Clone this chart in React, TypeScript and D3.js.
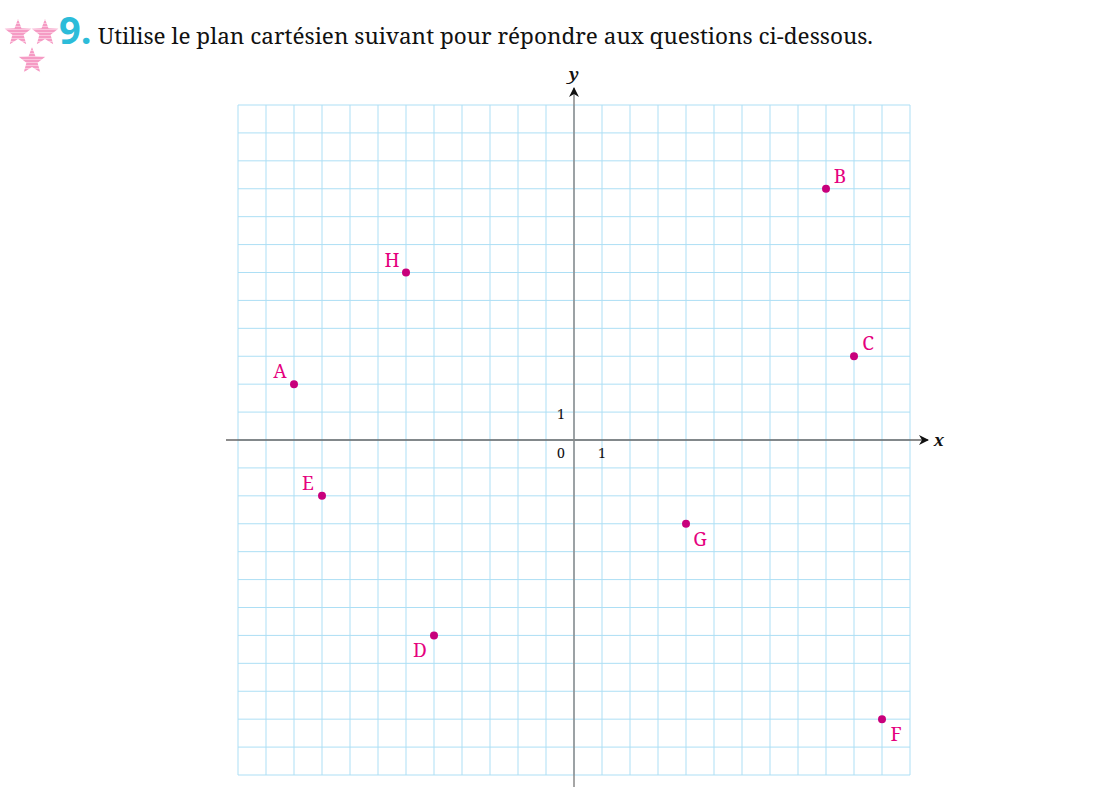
import React from 'react'
import * as d3 from 'd3'

const W = 1096
const H = 791

const gridMin = -12
const gridMax = 12

const pointNames = ['A', 'B', 'C', 'D', 'E', 'F', 'G', 'H']
const pointX = [-10, 9, 10, -5, -9, 11, 4, -6]
const pointY = [2, 9, 3, -7, -2, -10, -3, 6]
// which side the letter sits on: [horizontal, vertical]
const labelSide = [[-1, -1], [1, -1], [1, -1], [-1, 1], [-1, -1], [1, 1], [1, 1], [-1, -1]]

const titleNumber = '9.'
const titleText = 'Utilise le plan cartésien suivant pour répondre aux questions ci-dessous.'

const serif = "'Noto Serif', 'DejaVu Serif', 'Liberation Serif', serif"

const starPath = (cx: number, cy: number, r: number) => {
  const pts: [number, number][] = []
  for (let i = 0; i < 10; i++) {
    const a = -Math.PI / 2 + (i * Math.PI) / 5
    const rr = i % 2 === 0 ? r : r * 0.42
    pts.push([cx + rr * Math.cos(a), cy + rr * Math.sin(a)])
  }
  return d3.line()(pts) + 'Z'
}

export default function App() {
  const x = d3.scaleLinear().domain([gridMin, gridMax]).range([238, 910])
  const y = d3.scaleLinear().domain([gridMin, gridMax]).range([775, 105])
  const ticks = d3.range(gridMin, gridMax + 1)

  const stars = [[18, 33], [45, 33], [32, 61]]

  return (
    <svg width={W} height={H} style={{ position: 'absolute', left: 0, top: 0 }}>
      <defs>
        <pattern id="stripes" width="4" height="3" patternUnits="userSpaceOnUse">
          <rect width="4" height="3" fill="#f59bc4" />
          <rect y="2" width="4" height="1" fill="#fbc6de" />
        </pattern>
        <marker id="arrow" viewBox="0 0 10 10" refX="9" refY="5" markerWidth="10" markerHeight="10"
          markerUnits="userSpaceOnUse" orient="auto">
          <path d="M0,0 L10,5 L0,10 L3,5 Z" fill="#111" />
        </marker>
      </defs>

      {stars.map(([cx, cy], i) => (
        <path key={i} d={starPath(cx, cy, 14)} fill="url(#stripes)" />
      ))}
      <text x={59} y={44} fontFamily="'Open Sans', 'Noto Sans', sans-serif" fontWeight="bold"
        fontSize={38} fill="#2cbcd9">{titleNumber}</text>
      <text x={98} y={44} fontFamily={serif} fontSize={22.5} fill="#111" textLength={775}
        lengthAdjust="spacingAndGlyphs">{titleText}</text>

      <g stroke="#addff5" strokeWidth={1}>
        {ticks.map(t => (
          <line key={'v' + t} x1={x(t)} x2={x(t)} y1={y(gridMin)} y2={y(gridMax)} />
        ))}
        {ticks.map(t => (
          <line key={'h' + t} x1={x(gridMin)} x2={x(gridMax)} y1={y(t)} y2={y(t)} />
        ))}
      </g>

      <line x1={x(gridMin) - 12} x2={x(gridMax) + 18} y1={y(0)} y2={y(0)} stroke="#666"
        strokeWidth={1.5} markerEnd="url(#arrow)" />
      <line x1={x(0)} x2={x(0)} y1={y(gridMin) + 12} y2={y(gridMax) - 17} stroke="#888"
        strokeWidth={1.5} markerEnd="url(#arrow)" />

      <text x={x(gridMax) + 29} y={y(0) + 6} fontFamily={serif} fontStyle="italic" fontWeight="bold"
        fontSize={17} fill="#111" textAnchor="middle">x</text>
      <text x={x(0)} y={y(gridMax) - 25} fontFamily={serif} fontStyle="italic" fontWeight="bold"
        fontSize={17} fill="#111" textAnchor="middle">y</text>

      <g fontFamily={serif} fontSize={14} fill="#111" textAnchor="middle">
        <text x={x(0) - 13} y={y(0) + 18}>0</text>
        <text x={x(1)} y={y(0) + 18}>1</text>
        <text x={x(0) - 13} y={y(1) + 7}>1</text>
      </g>

      {pointNames.map((name, i) => {
        const px = x(pointX[i])
        const py = y(pointY[i])
        const [sx, sy] = labelSide[i]
        return (
          <g key={name}>
            <circle cx={px} cy={py} r={4} fill="#c8007c" />
            <text x={px + sx * 14} y={py + (sy < 0 ? -6 : 22)} fontFamily={serif} fontSize={19}
              fill="#e5007e" textAnchor="middle">{name}</text>
          </g>
        )
      })}
    </svg>
  )
}
